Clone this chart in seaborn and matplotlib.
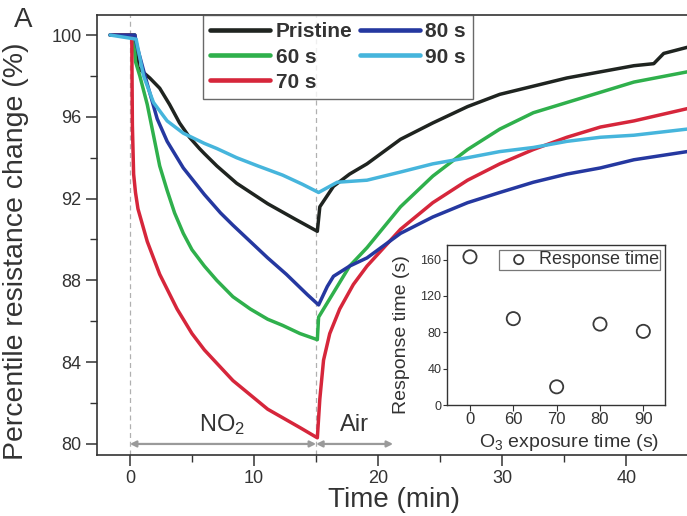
import numpy as np
import pandas as pd
import matplotlib
matplotlib.use('Agg')
import matplotlib.pyplot as plt
import seaborn as sns
from matplotlib.ticker import MultipleLocator

# ---------------- data ----------------
pristine_t = [-1.6, 0.4, 0.65, 1.6, 2.4, 3.2, 4.0, 4.8, 5.6, 6.0, 7.0, 8.6, 11.1, 13.3, 15.1,
              15.3, 16.4, 17.7, 19.1, 21.8, 24.4, 27.2, 29.8, 32.5, 35.2, 37.9, 40.6, 42.2, 43.0, 44.9]
pristine_y = [100, 100, 98.4, 97.9, 97.4, 96.6, 95.7, 95.0, 94.45, 94.2, 93.6, 92.75, 91.75, 91.0, 90.4,
              91.6, 92.6, 93.2, 93.7, 94.9, 95.7, 96.5, 97.1, 97.5, 97.9, 98.2, 98.5, 98.6, 99.1, 99.4]

s60_t = [-1.6, 0.3, 0.45, 0.8, 1.4, 1.9, 2.4, 3.0, 3.6, 4.3, 5.0, 6.0, 7.0, 8.3, 9.7, 11.1,
         12.3, 13.7, 15.1, 15.2, 15.6, 16.4, 17.7, 19.1, 21.8, 24.4, 27.2, 29.8, 32.5, 35.2,
         37.9, 40.6, 44.9]
s60_y = [100, 100, 98.7, 98.0, 96.6, 95.1, 93.6, 92.4, 91.3, 90.3, 89.5, 88.7, 88.0, 87.2, 86.6, 86.1,
         85.8, 85.4, 85.1, 86.2, 86.6, 87.4, 88.7, 89.6, 91.6, 93.1, 94.4, 95.4, 96.2, 96.7,
         97.2, 97.7, 98.2]

s70_t = [-1.6, 0.15, 0.2, 0.3, 0.45, 0.65, 1.4, 2.4, 3.8, 5.0, 6.0, 8.3, 11.1, 13.7, 15.1,
         15.3, 15.6, 16.1, 16.9, 18.0, 19.1, 21.8, 24.4, 27.2, 29.8, 32.5, 35.2, 37.9, 40.6, 44.9]
s70_y = [100, 100, 95.6, 93.2, 92.3, 91.5, 89.9, 88.3, 86.6, 85.4, 84.6, 83.1, 81.7, 80.8, 80.3,
         82.2, 84.1, 85.4, 86.6, 87.8, 88.7, 90.5, 91.8, 92.9, 93.7, 94.4, 95.0, 95.5, 95.8, 96.4]

s80_t = [-1.6, 0.4, 0.55, 1.4, 2.2, 3.0, 4.3, 6.0, 7.3, 8.3, 9.7, 11.1, 12.6, 14.3, 15.2,
         15.9, 16.4, 17.7, 19.1, 21.8, 24.4, 27.2, 29.8, 32.5, 35.2, 37.9, 40.6, 44.9]
s80_y = [100, 100, 99.5, 97.6, 95.9, 94.8, 93.5, 92.2, 91.3, 90.7, 89.9, 89.1, 88.3, 87.3, 86.8,
         87.7, 88.2, 88.7, 89.1, 90.3, 91.1, 91.8, 92.3, 92.8, 93.2, 93.5, 93.9, 94.3]

s90_t = [-1.6, 0.5, 1.1, 1.9, 3.0, 4.3, 6.0, 7.0, 8.6, 10.3, 12.3, 13.9, 15.2,
         16.7, 19.1, 21.8, 24.4, 27.2, 29.8, 32.5, 35.2, 37.9, 40.6, 44.9]
s90_y = [100, 99.8, 98.0, 96.7, 95.8, 95.2, 94.7, 94.45, 94.0, 93.6, 93.15, 92.7, 92.3,
         92.8, 92.9, 93.3, 93.7, 94.0, 94.3, 94.5, 94.8, 95.0, 95.1, 95.4]

sample_names = ['Pristine', '60 s', '70 s', '80 s', '90 s']
sample_colors = ['#1f2420', '#2fb04c', '#d6263b', '#2538a0', '#46b5dc']

exposure_labels = ['0', '60', '70', '80', '90']
response_time = [163, 95, 20, 89, 81]

# ---------------- style ----------------
sns.set_style('ticks')
plt.rcParams['font.family'] = ['Liberation Sans', 'DejaVu Sans']
plt.rcParams['mathtext.default'] = 'regular'
plt.rcParams['axes.edgecolor'] = '#333333'
plt.rcParams['xtick.color'] = '#333333'
plt.rcParams['ytick.color'] = '#333333'
plt.rcParams['text.color'] = '#333333'
plt.rcParams['axes.labelcolor'] = '#333333'
plt.rcParams['lines.solid_joinstyle'] = 'round'

frames = []
for name, t, y in zip(sample_names,
                      [pristine_t, s60_t, s70_t, s80_t, s90_t],
                      [pristine_y, s60_y, s70_y, s80_y, s90_y]):
    frames.append(pd.DataFrame({'time': t, 'value': y, 'sample': name}))
df = pd.concat(frames, ignore_index=True)

fig = plt.figure(figsize=(6.87, 5.16), dpi=100)
ax = fig.add_axes([97 / 687, 61 / 516, 594 / 687, 440 / 516])

ax.axvline(0, ls=(0, (4, 3)), color='#b0b0b0', lw=0.9, zorder=0)
ax.axvline(15, ls=(0, (4, 3)), color='#b0b0b0', lw=0.9, zorder=0)

sns.lineplot(data=df, x='time', y='value', hue='sample', hue_order=sample_names,
             palette=dict(zip(sample_names, sample_colors)), sort=False, estimator=None,
             lw=2.5, ax=ax)

ax.set_xlim(-2.65, 45.2)
ax.set_ylim(79.46, 100.98)
ax.xaxis.set_major_locator(MultipleLocator(10))
ax.xaxis.set_minor_locator(MultipleLocator(5))
ax.yaxis.set_major_locator(MultipleLocator(4))
ax.yaxis.set_minor_locator(MultipleLocator(2))
ax.tick_params(axis='both', which='major', direction='out', length=8, width=1.1,
               labelsize=13, pad=3)
ax.tick_params(axis='both', which='minor', direction='out', length=5, width=1.0)
ax.tick_params(axis='y', which='major', right=True)
ax.tick_params(axis='y', which='minor', right=False)
for sp in ax.spines.values():
    sp.set_linewidth(1.2)
ax.set_xlabel('Time (min)', fontsize=20, labelpad=0)
ax.set_ylabel('Percentile resistance change (%)', fontsize=20.5)
ax.yaxis.set_label_coords(-0.115, 0.462)

# arrows and region labels
ax.annotate('', xy=(0, 80), xytext=(15, 80),
            arrowprops=dict(arrowstyle='<|-|>', color='#9a9a9a', lw=1.6,
                            mutation_scale=9, shrinkA=0, shrinkB=0))
ax.annotate('', xy=(15, 80), xytext=(21.2, 80),
            arrowprops=dict(arrowstyle='<|-|>', color='#9a9a9a', lw=1.6,
                            mutation_scale=9, shrinkA=0, shrinkB=0))
ax.text(7.4, 80.95, 'NO$_2$', fontsize=17, ha='center', va='center')
ax.text(18.1, 80.95, 'Air', fontsize=17, ha='center', va='center')

handles, labels = ax.get_legend_handles_labels()
leg = ax.legend(handles, labels, ncol=2, loc='upper left', bbox_to_anchor=(0.178, 1.0),
                borderaxespad=0, frameon=True, fancybox=False, edgecolor='#444444',
                handlelength=2.9, handletextpad=0.25, columnspacing=0.35,
                labelspacing=0.3, borderpad=0.35, prop={'weight': 'bold', 'size': 15})
leg.get_frame().set_linewidth(1.0)
for line in leg.get_lines():
    line.set_linewidth(3.3)

fig.text(14 / 687, 1 - 20 / 516, 'A', fontsize=20, ha='left', va='center')

# ---------------- inset ----------------
ax_in = fig.add_axes([447 / 687, 111 / 516, 218 / 687, 160 / 516])
ax_in.set_facecolor('white')
sns.scatterplot(x=exposure_labels, y=response_time, ax=ax_in, marker='o', s=90,
                fc='none', ec='#3a3a3a', linewidth=1.3, label='Response time', zorder=3)
ax_in.set_xlim(-0.53, 4.5)
ax_in.set_ylim(0, 176)
ax_in.yaxis.set_major_locator(MultipleLocator(40))
ax_in.tick_params(axis='x', which='major', direction='out', length=4, labelsize=12, pad=1)
ax_in.tick_params(axis='y', which='major', direction='out', length=3, labelsize=9, pad=1)
for sp in ax_in.spines.values():
    sp.set_linewidth(1.0)
ax_in.set_xlabel('O$_3$ exposure time (s)', fontsize=14, labelpad=0)
ax_in.set_ylabel('Response time (s)', fontsize=14, labelpad=1)
ax_in.xaxis.set_label_coords(0.56, -0.17)
ax_in.yaxis.set_label_coords(-0.17, 0.44)
leg2 = ax_in.legend(loc='upper right', frameon=True, fancybox=False, edgecolor='#555555',
                    fontsize=13, handletextpad=0.1, borderpad=0.1, borderaxespad=0.25,
                    markerscale=0.7)
leg2.get_frame().set_linewidth(0.9)

fig.savefig('out.png', dpi=100)
